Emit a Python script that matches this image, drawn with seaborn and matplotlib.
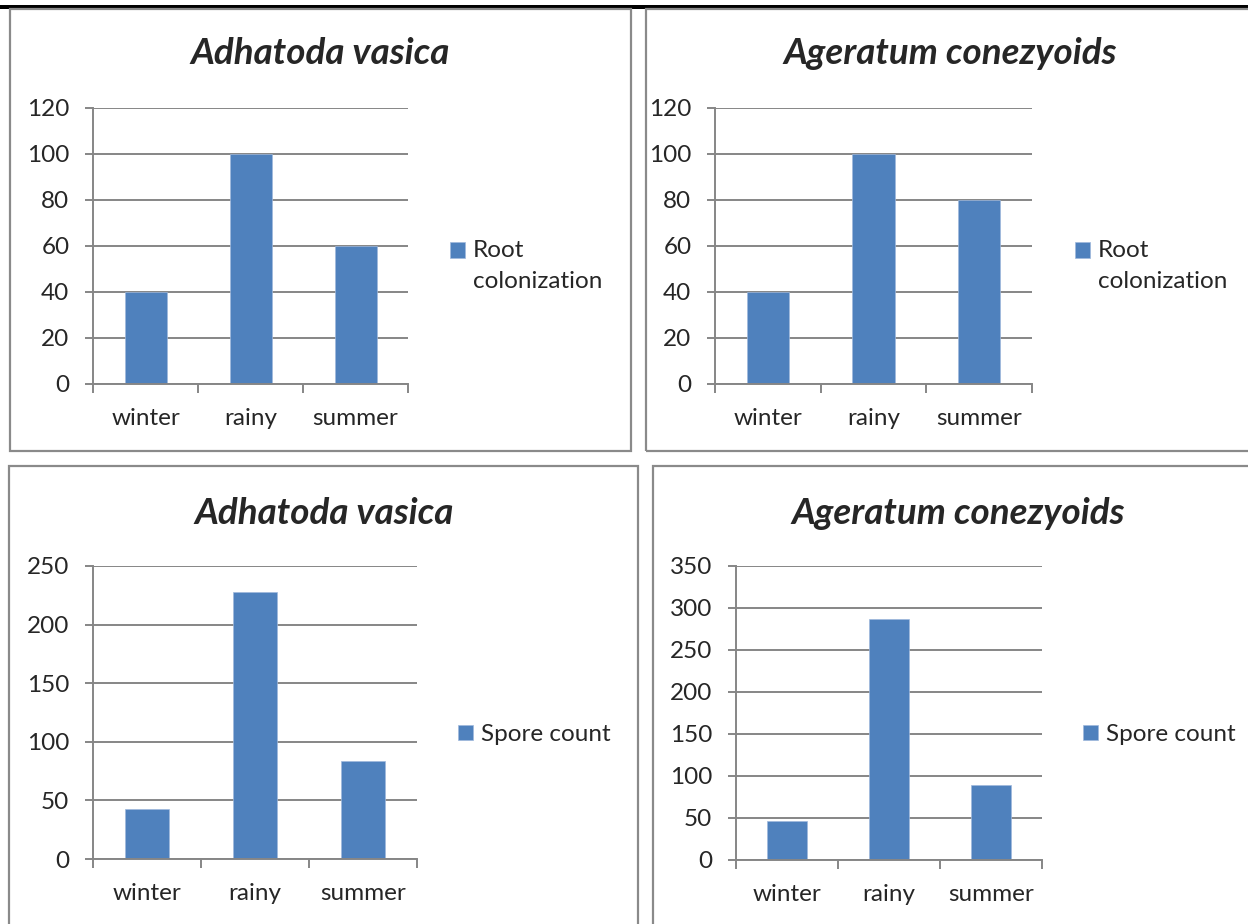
import matplotlib
matplotlib.use("Agg")
import matplotlib.pyplot as plt
from matplotlib.patches import Rectangle
import seaborn as sns
import pandas as pd


seasons = ["winter", "rainy", "summer"]

adhatoda_root = [40, 100, 60]
ageratum_root = [40, 100, 80]
adhatoda_spore = [43, 228, 84]
ageratum_spore = [47, 287, 89]

titles = ["Adhatoda vasica", "Ageratum conezyoids"]
root_label = "Root\ncolonization"
spore_label = "Spore count"

root_ticks = [0, 20, 40, 60, 80, 100, 120]
adhatoda_spore_ticks = [0, 50, 100, 150, 200, 250]
ageratum_spore_ticks = [0, 50, 100, 150, 200, 250, 300, 350]


BAR = "#4F81BD"
GRID = "#868686"
W, H = 1248, 924
FS = 17.5
LSP = 1.6

sns.set_theme(style="white")
plt.rcParams["font.family"] = ["Lato", "DejaVu Sans"]


def fx(px):
    return px / W


def fy(py):
    return 1 - py / H


def draw_panel(fig, box, rect, title, title_xy, values, ticks, label, legend_xy):

    # panel frame
    x0, y0, x1, y1 = box
    fig.add_artist(Rectangle(
        (fx(x0), fy(y1)), fx(x1 - x0), (y1 - y0) / H,
        transform=fig.transFigure, fill=False,
        edgecolor="#8a8a8a", linewidth=1.6
    ))

    ax = fig.add_axes([fx(rect[0]), fy(rect[3]),
                       fx(rect[2] - rect[0]), (rect[3] - rect[1]) / H])

    df = pd.DataFrame({"season": seasons, "value": values})

    sns.barplot(
        data=df, x="season", y="value", ax=ax,
        color=BAR, width=0.4, saturation=1,
        edgecolor="#9fb9dc", linewidth=0.5, label=label
    )

    ax.set_xlim(-0.5, 2.5)
    ax.set_ylim(ticks[0], ticks[-1])
    ax.set_yticks(ticks)
    ax.set_xlabel("")
    ax.set_ylabel("")

    ax.set_axisbelow(True)
    ax.yaxis.grid(True, color=GRID, linewidth=1.4)
    ax.xaxis.grid(False)

    for side in ["top", "right"]:
        ax.spines[side].set_visible(False)
    for side in ["left", "bottom"]:
        ax.spines[side].set_color(GRID)
        ax.spines[side].set_linewidth(1.4)

    ax.tick_params(axis="y", direction="out", length=6, width=1.4,
                   color=GRID, pad=11, labelsize=FS, left=True)
    ax.tick_params(axis="x", which="major", length=0, pad=17, labelsize=FS)
    ax.set_xticks([-0.5, 0.5, 1.5, 2.5], minor=True)
    ax.tick_params(axis="x", which="minor", direction="out", length=6.5,
                   width=1.4, color=GRID, bottom=True)

    fig.text(fx(title_xy[0]), fy(title_xy[1]), title,
             ha="center", va="center", fontsize=26.5,
             fontweight="bold", fontstyle="italic")

    leg = ax.legend(
        loc="upper left", bbox_to_anchor=(fx(legend_xy[0]), fy(legend_xy[1])),
        bbox_transform=fig.transFigure, frameon=False, fontsize=FS,
        handlelength=0.6, handleheight=0.6, handletextpad=0.35,
        borderpad=0, borderaxespad=0, labelspacing=0
    )

    # square sits next to the first line, as in the original
    n_lines = label.count("\n") + 1
    if n_lines > 1:
        leg.get_texts()[0].set_linespacing(LSP)
        handle = leg.legend_handles[0]
        handle.set_y(handle.get_y() + 0.5 * (n_lines - 1) * LSP * 0.82 * FS)

    return ax


fig = plt.figure(figsize=(W / 100, H / 100), dpi=100)

# black rule at the top of the page
fig.add_artist(Rectangle((0, fy(9)), 1, 4 / H, transform=fig.transFigure,
                         color="black", linewidth=0))

draw_panel(fig, (10, 9, 631, 451), (93, 108, 408, 384), titles[0], (320, 54),
           adhatoda_root, root_ticks, root_label, (450, 240))
draw_panel(fig, (646, 9, 1260, 451), (715, 108, 1032, 384), titles[1], (950, 54),
           ageratum_root, root_ticks, root_label, (1075, 240))
draw_panel(fig, (9, 466, 638, 940), (93, 566, 417, 859), titles[0], (324, 513),
           adhatoda_spore, adhatoda_spore_ticks, spore_label, (458, 724))
draw_panel(fig, (653, 466, 1260, 940), (736, 566, 1042, 860), titles[1], (958, 513),
           ageratum_spore, ageratum_spore_ticks, spore_label, (1083, 724))

fig.savefig("out.png", dpi=100)
